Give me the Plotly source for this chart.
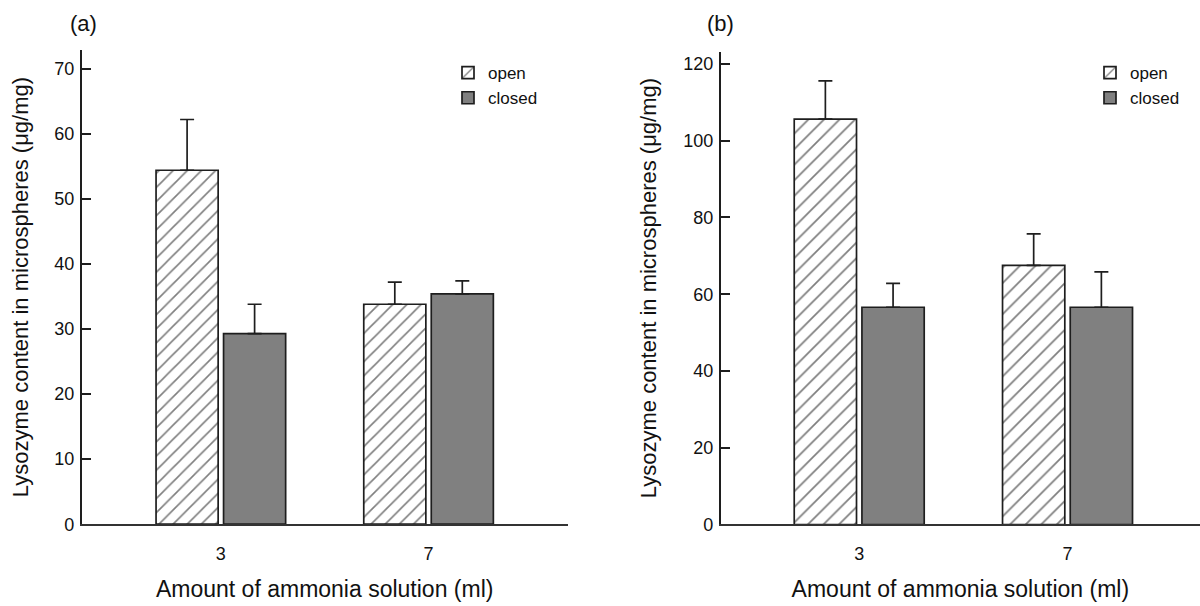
import plotly.graph_objects as go

# ---- data ----
categories = ["3", "7"]
series_names = ["open", "closed"]

open_a = [54.4, 33.8]
open_a_err = [7.8, 3.4]
closed_a = [29.3, 35.4]
closed_a_err = [4.5, 2.0]

open_b = [105.6, 67.5]
open_b_err = [10.0, 8.2]
closed_b = [56.6, 56.6]
closed_b_err = [6.2, 9.2]

y_ticks_a = [0, 10, 20, 30, 40, 50, 60, 70]
y_ticks_b = [0, 20, 40, 60, 80, 100, 120]

x_title = "Amount of ammonia solution (ml)"
y_title = "Lysozyme content in microspheres (μg/mg)"

# ---- style ----
FONT = "Liberation Sans, Arial, sans-serif"
INK = "#111111"
EDGE = "#1e1e1e"
GRAY = "#808080"


def err(vals):
    return dict(type="data", array=vals, arrayminus=[0] * len(vals), symmetric=False,
                color=EDGE, thickness=1.7, width=7)


def open_marker(size):
    return dict(color="white", line=dict(color=EDGE, width=1.7),
                pattern=dict(shape="/", size=size, solidity=0.16, fgcolor="#000000",
                             bgcolor="white"))


closed_marker = dict(color=GRAY, line=dict(color=EDGE, width=1.7))

fig = go.Figure()
fig.add_trace(go.Bar(x=categories, y=open_a, name=series_names[0], marker=open_marker(10),
                     error_y=err(open_a_err), xaxis="x", yaxis="y", legend="legend"))
fig.add_trace(go.Bar(x=categories, y=closed_a, name=series_names[1], marker=closed_marker,
                     error_y=err(closed_a_err), xaxis="x", yaxis="y", legend="legend"))
fig.add_trace(go.Bar(x=categories, y=open_b, name=series_names[0], marker=open_marker(11),
                     error_y=err(open_b_err), xaxis="x2", yaxis="y2", legend="legend2"))
fig.add_trace(go.Bar(x=categories, y=closed_b, name=series_names[1], marker=closed_marker,
                     error_y=err(closed_b_err), xaxis="x2", yaxis="y2", legend="legend2"))

W, H = 1200, 606

xcommon = dict(type="category", showgrid=False, zeroline=False, showline=True,
               linecolor="#333333", linewidth=1.7, ticks="", ticklabelstandoff=12,
               tickfont=dict(family=FONT, size=18, color=INK),
               title=dict(text=x_title, font=dict(family=FONT, size=23, color=INK), standoff=18))
ycommon = dict(showgrid=False, zeroline=False, showline=True, linecolor=EDGE, linewidth=1.7,
               ticks="inside", ticklen=9, tickwidth=1.7, tickcolor=EDGE, ticklabelstandoff=2,
               tickfont=dict(family=FONT, size=18, color=INK),
               title=dict(text=y_title, font=dict(family=FONT, size=22, color=INK), standoff=20))

legend_common = dict(xanchor="left", yanchor="top", bgcolor="rgba(0,0,0,0)",
                     font=dict(family=FONT, size=17, color=INK), itemclick=False,
                     tracegroupgap=0)

fig.update_layout(
    width=W, height=H,
    margin=dict(l=0, r=0, t=0, b=0),
    paper_bgcolor="white", plot_bgcolor="white",
    barmode="group", bargap=0.35, bargroupgap=0.08,
    xaxis=dict(xcommon, domain=[81.7 / W, 567.7 / W], range=[-0.67, 1.67], anchor="y"),
    yaxis=dict(ycommon, domain=[1 - 533 / H, 1 - 50.7 / H], range=[0, 72.9],
               tickvals=y_ticks_a, anchor="x"),
    xaxis2=dict(xcommon, domain=[720.7 / W, 1.0], range=[-0.665, 1.636], anchor="y2"),
    yaxis2=dict(ycommon, domain=[1 - 533.3 / H, 1 - 52.5 / H], range=[0, 123.2],
                tickvals=y_ticks_b, anchor="x2"),
    legend=dict(legend_common, x=448 / W, y=1 - 56 / H),
    legend2=dict(legend_common, x=1090 / W, y=1 - 56 / H),
    annotations=[
        dict(text="(a)", x=83 / W, y=1 - 24 / H, xref="paper", yref="paper", showarrow=False,
             font=dict(family=FONT, size=22, color=INK), xanchor="center", yanchor="middle"),
        dict(text="(b)", x=720 / W, y=1 - 24 / H, xref="paper", yref="paper", showarrow=False,
             font=dict(family=FONT, size=22, color=INK), xanchor="center", yanchor="middle"),
    ],
)

fig.write_html("out.html")
